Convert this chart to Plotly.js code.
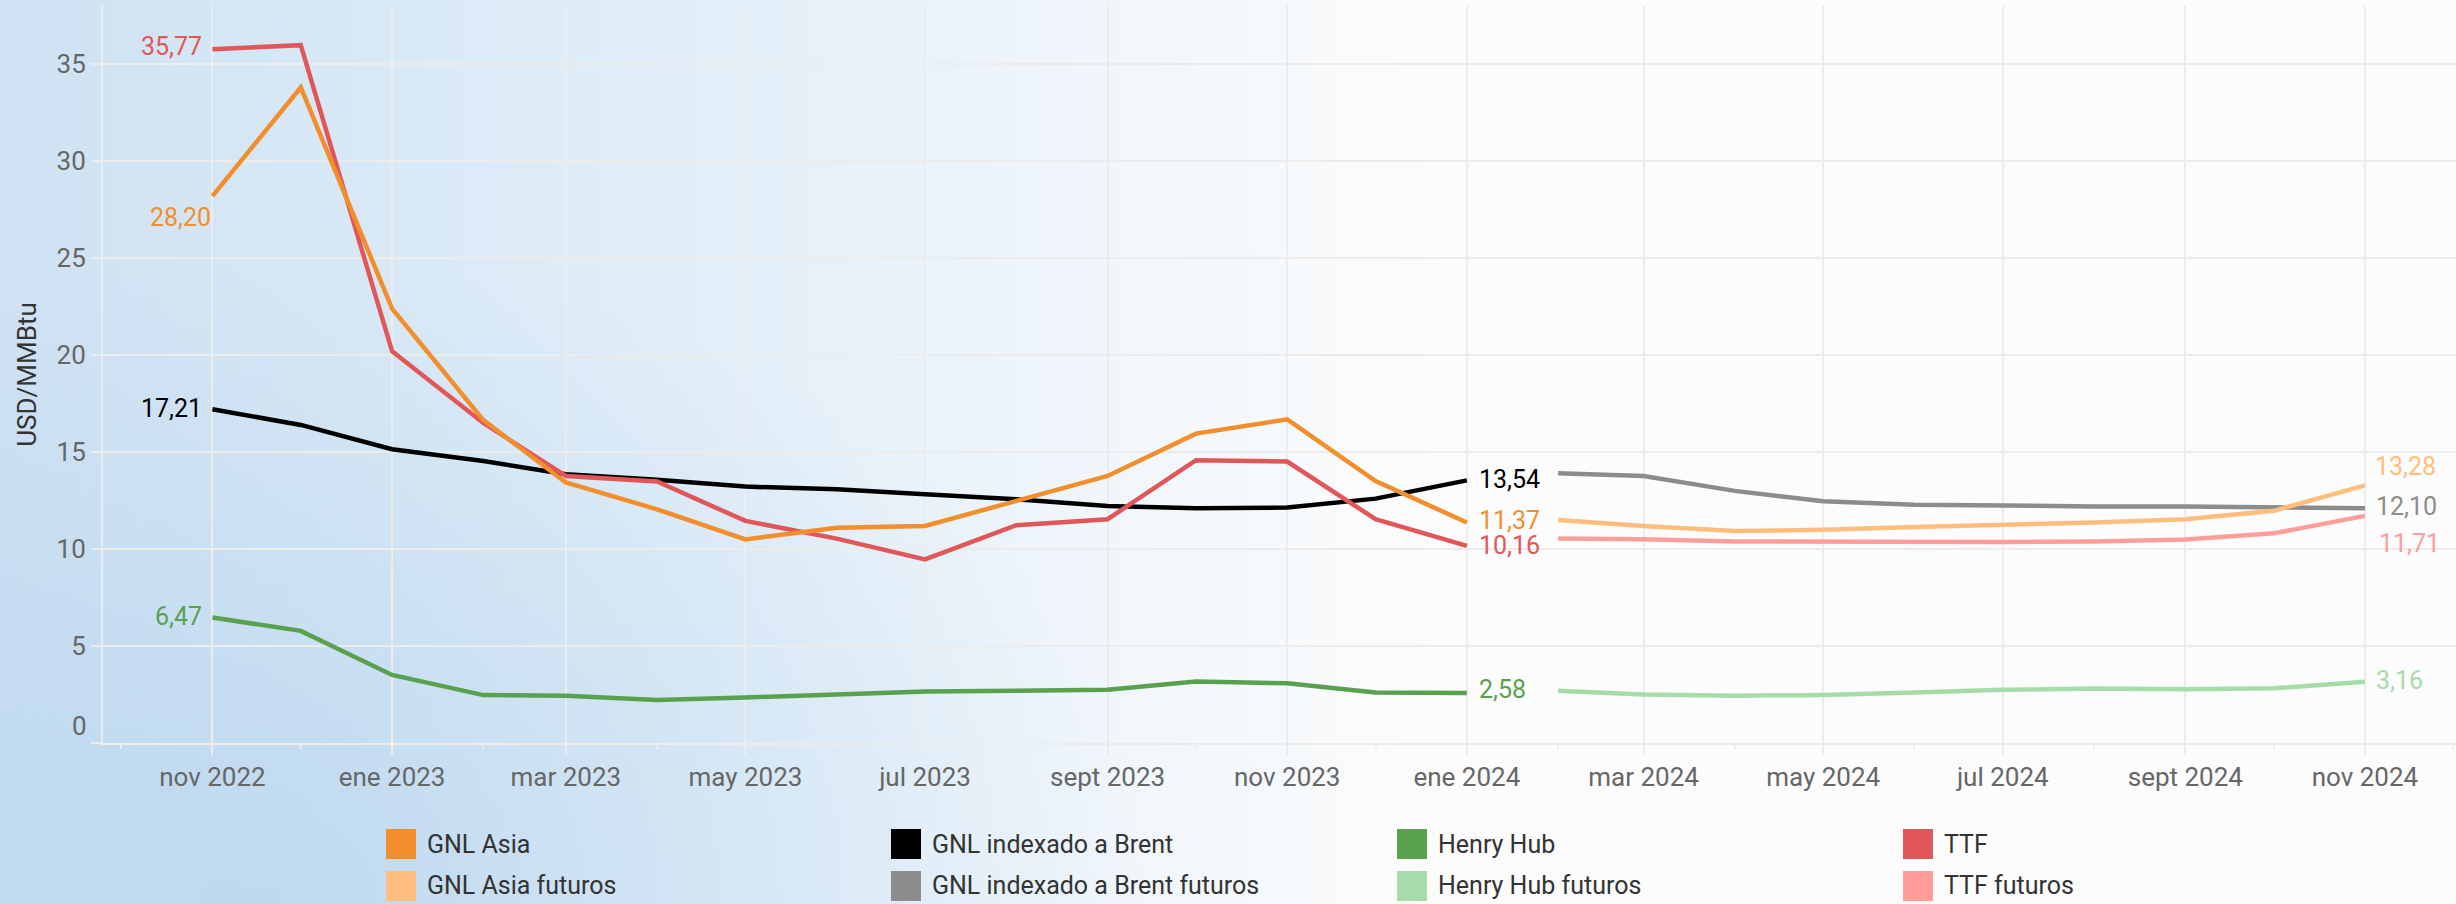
<!DOCTYPE html>
<html>
<head>
<meta charset="utf-8">
<script src="https://cdn.plot.ly/plotly-3.0.1.min.js"></script>
<style>
  html, body { margin: 0; padding: 0; }
  body {
    width: 2456px; height: 904px; overflow: hidden;
    background-color: #fcfcfc;
    background-image:
      radial-gradient(ellipse 900px 650px at 260px 904px, rgba(168,203,234,0.5), rgba(168,203,234,0) 100%),
      linear-gradient(to right, #cfe2f3 0px, #d9e9f6 400px, #e5f0f9 800px, #f2f7fb 1150px, #fcfcfc 1450px);
  }
  #chart { width: 2456px; height: 904px; }
</style>
</head>
<body>
<div id="chart"></div>
<script>
// ---- Data ----
const histMonths = ['2022-11-01','2022-12-01','2023-01-01','2023-02-01','2023-03-01','2023-04-01','2023-05-01',
  '2023-06-01','2023-07-01','2023-08-01','2023-09-01','2023-10-01','2023-11-01','2023-12-01','2024-01-01'];
const futMonths = ['2024-02-01','2024-03-01','2024-04-01','2024-05-01','2024-06-01','2024-07-01',
  '2024-08-01','2024-09-01','2024-10-01','2024-11-01'];

const gnlAsia   = [28.20, 33.80, 22.40, 16.65, 13.43, 12.05, 10.50, 11.10, 11.19, 12.48, 13.77, 15.95, 16.69, 13.51, 11.37];
const gnlBrent  = [17.21, 16.40, 15.15, 14.54, 13.86, 13.57, 13.22, 13.08, 12.82, 12.57, 12.22, 12.10, 12.14, 12.60, 13.54];
const henryHub  = [6.47, 5.78, 3.51, 2.47, 2.43, 2.22, 2.35, 2.52, 2.65, 2.69, 2.74, 3.17, 3.08, 2.60, 2.58];
const ttf       = [35.77, 35.98, 20.20, 16.50, 13.77, 13.48, 11.45, 10.54, 9.47, 11.23, 11.54, 14.58, 14.51, 11.54, 10.16];

const gnlAsiaFut  = [11.50, 11.19, 10.93, 10.99, 11.14, 11.24, 11.37, 11.54, 11.97, 13.28];
const gnlBrentFut = [13.91, 13.77, 13.00, 12.46, 12.29, 12.22, 12.20, 12.19, 12.12, 12.10];
const henryHubFut = [2.69, 2.50, 2.43, 2.48, 2.60, 2.74, 2.81, 2.77, 2.82, 3.16];
const ttfFut      = [10.54, 10.50, 10.39, 10.37, 10.37, 10.37, 10.39, 10.49, 10.81, 11.71];

const tickVals = ['2022-11-01','2023-01-01','2023-03-01','2023-05-01','2023-07-01','2023-09-01','2023-11-01',
  '2024-01-01','2024-03-01','2024-05-01','2024-07-01','2024-09-01','2024-11-01'];
const tickText = ['nov 2022','ene 2023','mar 2023','may 2023','jul 2023','sept 2023','nov 2023',
  'ene 2024','mar 2024','may 2024','jul 2024','sept 2024','nov 2024'];
const minorTickVals = ['2022-10-01','2022-12-01','2023-02-01','2023-04-01','2023-06-01','2023-08-01','2023-10-01',
  '2023-12-01','2024-02-01','2024-04-01','2024-06-01','2024-08-01','2024-10-01','2024-12-01'];
const yTickVals = [0, 5, 10, 15, 20, 25, 30, 35];

const seriesNames = ['GNL Asia','GNL indexado a Brent','Henry Hub','TTF',
  'GNL Asia futuros','GNL indexado a Brent futuros','Henry Hub futuros','TTF futuros'];
const seriesColors = ['#f28e2b','#000000','#59a14f','#e15759','#ffbe7d','#8c8c8c','#a6dcaa','#ff9d9a'];

// ---- Layout constants ----
const W = 2456, H = 904;
const M = {l: 103, r: 0, t: 6, b: 161};
const PW = W - M.l - M.r, PH = H - M.t - M.b;
const px2x = px => (px - M.l) / PW;
const py2y = py => (H - M.b - py) / PH;
const FONT = 'Roboto, "Liberation Sans", sans-serif';
const GRID = '#ececec';

const fmt = v => v.toFixed(2).replace('.', ',');

// Traces (draw order: black, green, red, orange on top; then futures)
const histData = [gnlAsia, gnlBrent, henryHub, ttf];
const futData = [gnlAsiaFut, gnlBrentFut, henryHubFut, ttfFut];
const drawOrder = [1, 2, 3, 0];
const traces = [];
drawOrder.forEach(i => traces.push({
  x: histMonths, y: histData[i], type: 'scatter', mode: 'lines', name: seriesNames[i],
  line: {color: seriesColors[i], width: 4.5}, showlegend: false, hoverinfo: 'x+y'
}));
[1, 2, 3, 0].forEach(i => traces.push({
  x: futMonths, y: futData[i], type: 'scatter', mode: 'lines', name: seriesNames[i + 4],
  line: {color: seriesColors[i + 4], width: 4.5}, showlegend: false, hoverinfo: 'x+y'
}));

// Value labels
const ann = [];
function lab(x, y, color, xanchor, xshift, yshift) {
  ann.push({x: x, y: y, xref: 'x', yref: 'y', text: fmt(y), showarrow: false,
    xanchor: xanchor, yanchor: 'middle', xshift: xshift, yshift: yshift,
    font: {family: FONT, size: 25, color: color}});
}
const first = histMonths[0], lastH = histMonths[histMonths.length - 1], lastF = futMonths[futMonths.length - 1];
lab(first, ttf[0], seriesColors[3], 'right', -8, 3);
lab(first, gnlAsia[0], seriesColors[0], 'right', 1, -21);
lab(first, gnlBrent[0], seriesColors[1], 'right', -8, 1);
lab(first, henryHub[0], seriesColors[2], 'right', -8, 1);
lab(lastH, gnlBrent[14], seriesColors[1], 'left', 10, 1);
lab(lastH, gnlAsia[14], seriesColors[0], 'left', 10, 2);
lab(lastH, ttf[14], seriesColors[3], 'left', 10, 0);
lab(lastH, henryHub[14], seriesColors[2], 'left', 10, 3);
lab(lastF, gnlAsiaFut[9], seriesColors[4], 'left', 8, 19);
lab(lastF, gnlBrentFut[9], seriesColors[5], 'left', 9, 2);
lab(lastF, ttfFut[9], '#ff9d9a', 'left', 12, -28);
lab(lastF, henryHubFut[9], seriesColors[6], 'left', 9, 1);

// "0" tick label (sits slightly above the baseline in the reference)
ann.push({x: 0, xref: 'paper', y: 0, yref: 'y', text: '0', showarrow: false, xanchor: 'right',
  yanchor: 'middle', xshift: -14, yshift: 17, font: {family: FONT, size: 26, color: '#666666'}});

// Legend (2 rows x 4 columns, square swatches)
const shapes = [];
const legColX = [386, 891, 1397, 1903];
const legRowY = [844, 886];
seriesNames.forEach((name, k) => {
  const col = k % 4, row = Math.floor(k / 4);
  const sx = legColX[col], sy = legRowY[row];
  shapes.push({type: 'rect', xref: 'paper', yref: 'paper',
    x0: px2x(sx), x1: px2x(sx + 30), y0: py2y(sy + 15), y1: py2y(sy - 15),
    fillcolor: seriesColors[k], line: {width: 0}, layer: 'above'});
  ann.push({x: px2x(sx + 39), y: py2y(sy), xref: 'paper', yref: 'paper', text: name, showarrow: false,
    xanchor: 'left', yanchor: 'middle', font: {family: FONT, size: 25, color: '#333333'}});
});

const layout = {
  width: W, height: H,
  margin: M,
  paper_bgcolor: 'rgba(0,0,0,0)',
  plot_bgcolor: 'rgba(0,0,0,0)',
  font: {family: FONT, size: 26, color: '#666666'},
  showlegend: false,
  xaxis: {
    type: 'date',
    range: ['2022-09-24 20:00', '2024-12-01 22:00'],
    tickmode: 'array', tickvals: tickVals, ticktext: tickText,
    ticks: 'outside', ticklen: 10, tickwidth: 2, tickcolor: GRID,
    showgrid: true, gridcolor: GRID, gridwidth: 2,
    showline: true, linecolor: GRID, linewidth: 2,
    zeroline: false,
    tickfont: {family: FONT, size: 26, color: '#666666'},
    minor: {tickmode: 'array', tickvals: minorTickVals, ticks: 'outside', ticklen: 4, tickwidth: 2,
      tickcolor: GRID, showgrid: false},
    fixedrange: true
  },
  yaxis: {
    range: [0, 38],
    tickmode: 'array', tickvals: yTickVals, ticktext: yTickVals.map(v => v === 0 ? '' : String(v)),
    ticks: 'outside', ticklen: 10, tickwidth: 2, tickcolor: GRID,
    showgrid: true, gridcolor: GRID, gridwidth: 2,
    showline: true, linecolor: GRID, linewidth: 2,
    zeroline: false,
    tickfont: {family: FONT, size: 26, color: '#666666'},
    title: {text: 'USD/MMBtu', font: {family: FONT, size: 26, color: '#333333'}, standoff: 12},
    fixedrange: true
  },
  annotations: ann,
  shapes: shapes
};

Plotly.newPlot('chart', traces, layout, {displayModeBar: false, staticPlot: true});
</script>
</body>
</html>
